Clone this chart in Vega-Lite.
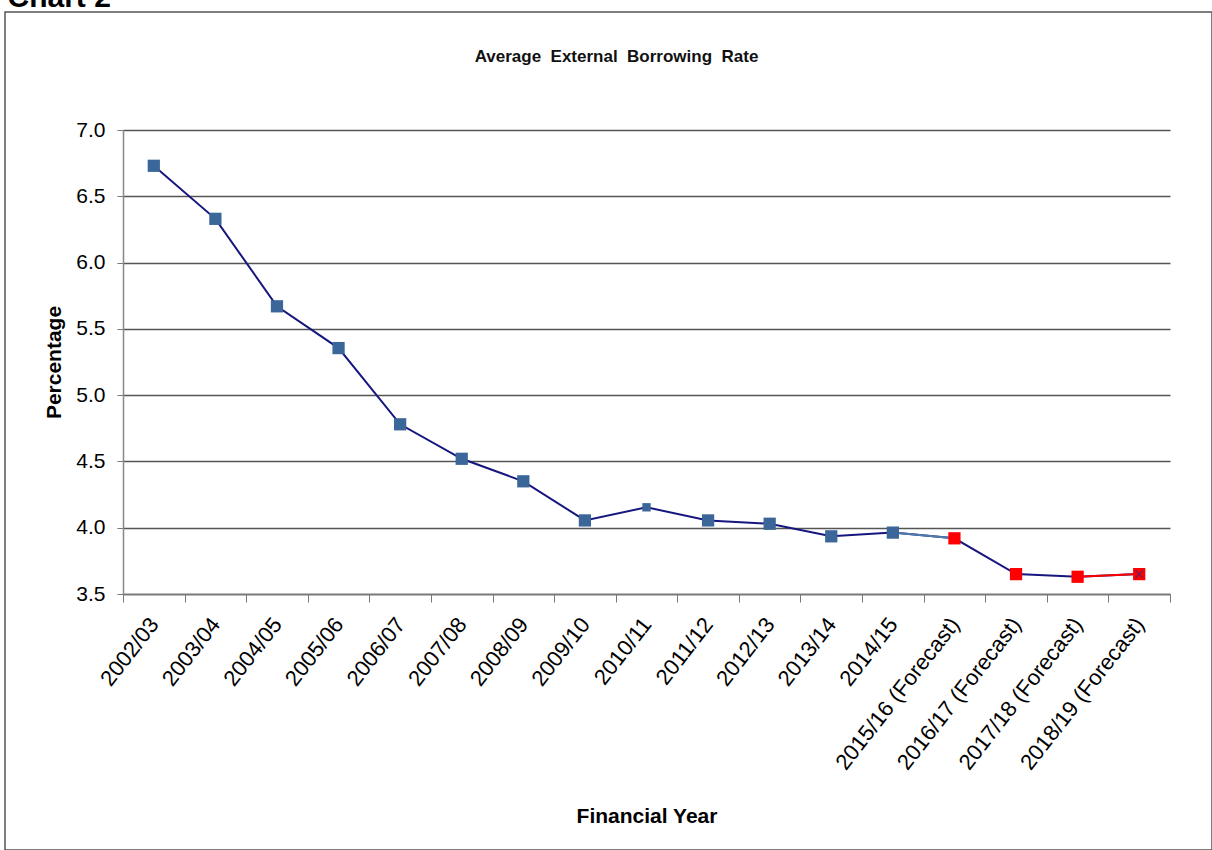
{
  "$schema": "https://vega.github.io/schema/vega-lite/v6.json",
  "autosize": "none",
  "padding": {"left": 5, "top": 12, "right": 0, "bottom": 0},
  "background": "white",
  "width": 1207,
  "height": 838,
  "title": {"text": "Average\u00a0 External\u00a0 Borrowing\u00a0 Rate", "fontSize": 17, "fontWeight": "bold", "color": "#111111", "anchor": "middle", "frame": "group", "baseline": "alphabetic", "offset": -97, "dx": 8},
  "config": {"font": "Liberation Sans", "view": {"stroke": "#555555", "strokeWidth": 1.5}},
  "data": {"values": [
    {"year": "2002/03", "rate": 6.73, "forecast": false},
    {"year": "2003/04", "rate": 6.33, "forecast": false},
    {"year": "2004/05", "rate": 5.67, "forecast": false},
    {"year": "2005/06", "rate": 5.355, "forecast": false},
    {"year": "2006/07", "rate": 4.78, "forecast": false},
    {"year": "2007/08", "rate": 4.52, "forecast": false},
    {"year": "2008/09", "rate": 4.35, "forecast": false},
    {"year": "2009/10", "rate": 4.055, "forecast": false},
    {"year": "2010/11", "rate": 4.154, "forecast": false},
    {"year": "2011/12", "rate": 4.055, "forecast": false},
    {"year": "2012/13", "rate": 4.03, "forecast": false},
    {"year": "2013/14", "rate": 3.935, "forecast": false},
    {"year": "2014/15", "rate": 3.963, "forecast": false},
    {"year": "2015/16 (Forecast)", "rate": 3.92, "forecast": true},
    {"year": "2016/17 (Forecast)", "rate": 3.65, "forecast": true},
    {"year": "2017/18 (Forecast)", "rate": 3.63, "forecast": true},
    {"year": "2018/19 (Forecast)", "rate": 3.65, "forecast": true}
  ]},
  "resolve": {"axis": {"x": "independent", "y": "independent"}},
  "layer": [
    {
      "encoding": {
        "x": {"field": "year", "type": "ordinal", "sort": null,
          "scale": {"type": "band", "range": [118, 1165], "paddingInner": 0, "paddingOuter": 0},
          "axis": {"orient": "bottom", "title": "Financial Year", "labelAngle": -52, "labelFontSize": 22, "labelColor": "#000000", "tickBand": "extent", "tickSize": 8, "tickColor": "#777777", "domainColor": "#777777", "domainWidth": 1.5, "offset": -256, "labelPadding": 18, "labelLimit": 400, "titleFontSize": 21, "titleFontWeight": "bold", "titleColor": "#000000", "titlePadding": 32, "grid": false}},
        "y": {"field": "rate", "type": "quantitative",
          "scale": {"domain": [3.5, 7], "range": [582, 118], "nice": false, "zero": false},
          "axis": {"orient": "left", "title": "Percentage", "values": [3.5, 4, 4.5, 5, 5.5, 6, 6.5, 7], "format": ".1f", "offset": -118, "grid": true, "gridColor": "#555555", "gridWidth": 1.3, "tickSize": 6, "tickColor": "#777777", "domainColor": "#888888", "domainWidth": 1.5, "labelFontSize": 21, "labelPadding": 12, "labelColor": "#000000", "titleFontSize": 21, "titleFontWeight": "bold", "titleColor": "#000000", "titlePadding": 11}}
      },
      "layer": [
        {"mark": {"type": "line", "color": "#16167f", "strokeWidth": 2}},
        {"transform": [{"filter": {"field": "year", "oneOf": ["2014/15", "2015/16 (Forecast)"]}}],
         "mark": {"type": "line", "color": "#4F7BAA", "strokeWidth": 2}},
        {"transform": [{"filter": {"field": "year", "oneOf": ["2017/18 (Forecast)", "2018/19 (Forecast)"]}}],
         "mark": {"type": "line", "color": "#FF0000", "strokeWidth": 2}},
        {"mark": {"type": "point", "shape": "square", "filled": true, "opacity": 1},
         "encoding": {
           "color": {"condition": {"test": "datum.forecast", "value": "#FF0000"}, "value": "#3A6699"},
           "size": {"condition": {"test": "datum.year === '2010/11'", "value": 70}, "value": 150}
         }}
      ]
    },
    {
      "transform": [{"filter": {"field": "year", "equal": "2018/19 (Forecast)"}}],
      "mark": {"type": "point", "shape": "M-1,-1L1,1M-1,1L1,-1", "filled": false, "stroke": "#3b2a80", "strokeWidth": 1.2, "opacity": 0.7, "size": 60},
      "encoding": {
        "x": {"field": "year", "type": "ordinal", "sort": null,
          "scale": {"type": "band", "range": [118, 1165], "paddingInner": 0, "paddingOuter": 0},
          "axis": {"orient": "top", "title": "Chart 2", "labels": false, "ticks": false, "domain": false, "grid": false, "titleFontSize": 30, "titleFontWeight": "bold", "titleColor": "#000000", "titleAnchor": "start", "titleAlign": "left", "titleBaseline": "alphabetic", "titleX": 2, "titleY": -6}},
        "y": {"field": "rate", "type": "quantitative",
          "scale": {"domain": [3.5, 7], "range": [582, 118], "nice": false, "zero": false},
          "axis": null}
      }
    }
  ]
}
